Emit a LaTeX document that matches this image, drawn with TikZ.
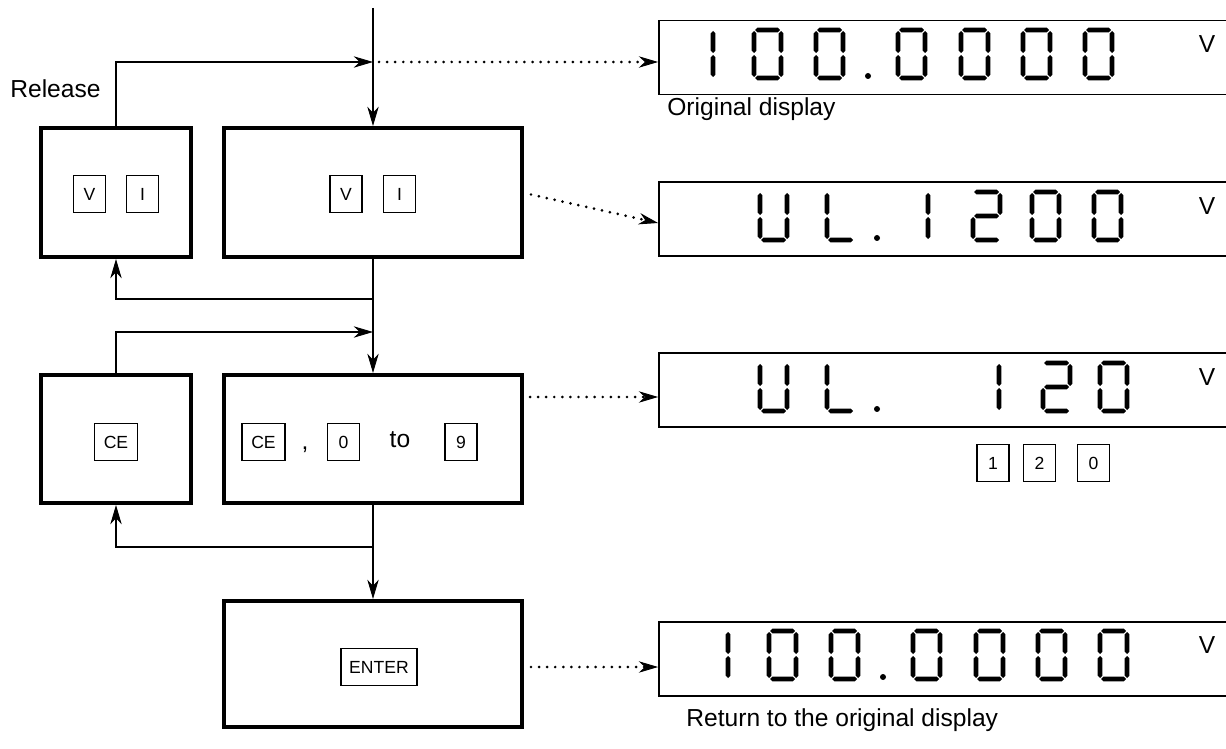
\documentclass[tikz,border=0pt]{standalone}
\usepackage{fontspec}
\setmainfont{Liberation Sans}
\usetikzlibrary{arrows.meta,calc}
\newcommand\hsegm[2]{\fill (#1,#2) -- ++(2.4,-2.4) -- ++(20.2,0) -- ++(2.4,2.4) -- ++(-2.4,2.4) -- ++(-20.2,0) -- cycle;}
\newcommand\vsegm[2]{\fill (#1,#2) -- ++(2.4,2.4) -- ++(0,17.2) -- ++(-2.4,2.4) -- ++(-2.4,-2.4) -- ++(0,-17.2) -- cycle;}
\def\segXa{\hsegm{1}{0}}
\def\segXg{\hsegm{1}{24}}
\def\segXd{\hsegm{1}{48}}
\def\segXf{\vsegm{0}{1}}
\def\segXe{\vsegm{0}{25}}
\def\segXb{\vsegm{27}{1}}
\def\segXc{\vsegm{27}{25}}
\def\segXh{\vsegm{21}{1}}
\def\segXi{\vsegm{21}{25}}
\newcommand\segdigit[3]{\begin{scope}[shift={(#1,#2)}]\foreach \s in {#3}{\csname segX\s\endcsname}\end{scope}}
\begin{document}
\begin{tikzpicture}[x=0.02cm,y=-0.02cm,
  bigbox/.style={draw, line width=2.3pt, inner sep=0pt},
  keybox/.style={draw, line width=0.85pt, inner sep=0pt, minimum width=0.64cm, minimum height=0.74cm, font=\fontsize{10}{12}\selectfont},
  disp/.style={draw, line width=1.1pt, inner sep=0pt, minimum width=12.02cm, minimum height=1.48cm},
  conn/.style={line width=0.9pt},
  arr/.style={conn, -{Stealth[length=11pt,width=6.5pt,inset=3.5pt,line width=0.5pt]}},
  dotarr/.style={line width=1.7pt, line cap=round, dash pattern=on 0pt off 4.6pt, -{Stealth[length=11pt,width=6.5pt,inset=3.5pt,line width=0.5pt]}},
  txt/.style={font=\fontsize{14}{16}\selectfont, inner sep=0pt},
  dot/.style={fill, circle, inner sep=0pt, minimum size=0.12cm}]
\clip (0,0) rectangle (1226,749);
\fill[white] (0,0) rectangle (1226,749);

% left-hand boxes
\node[bigbox, minimum width=3.0cm, minimum height=2.58cm] (box1) at (116,192.5) {};
\node[bigbox, minimum width=5.96cm, minimum height=2.58cm] (box2) at (373,192.5) {};
\node[bigbox, minimum width=3.0cm, minimum height=2.56cm] (box3) at (116,439) {};
\node[bigbox, minimum width=5.96cm, minimum height=2.56cm] (box4) at (373,439) {};
\node[bigbox, minimum width=5.96cm, minimum height=2.52cm] (box5) at (373,664) {};

% keys
\node[keybox] (k1v) at (89.5,194) {V};
\node[keybox] (k1i) at (142.5,194) {I};
\node[keybox] (k2v) at (346,194) {V};
\node[keybox] (k2i) at (399.5,194) {I};
\node[keybox, minimum width=0.86cm] (k3ce) at (116,442) {CE};
\node[keybox, minimum width=0.86cm] (k4ce) at (263.5,442) {CE};
\node[txt, anchor=base] (comma) at (305,449) {,};
\node[keybox] (k40) at (343.5,442) {0};
\node[txt] (to) at (400,440) {to};
\node[keybox] (k49) at (461,442) {9};
\node[keybox, minimum width=1.52cm] (k5) at (379,667) {ENTER};

% texts
\node[txt, anchor=base west] (rel) at (10,98) {Release};
\node[txt, anchor=base west] (orig) at (667,116) {Original display};
\node[txt, anchor=base west] (ret) at (686,726) {Return to the original display};

% connectors
\coordinate (top) at (373,8);
\coordinate (j1) at (373,62);
\coordinate (b1) at (373,299);
\coordinate (j2) at (373,332);
\coordinate (b2) at (373,547);
\draw[arr] (top) -- (box2.north);
\draw[arr] (box1.north) |- (j1);
\draw[conn] (box2.south) -- (b1);
\draw[arr] (b1) -- (box4.north);
\draw[arr] (b1) -| (box1.south);
\draw[arr] (box3.north) |- (j2);
\draw[conn] (box4.south) -- (b2);
\draw[arr] (b2) -- (box5.north);
\draw[arr] (b2) -| (box3.south);

% displays
\node[disp] (disp1) at (959.5,57.5) {};
\node[disp] (disp2) at (959.5,219) {};
\node[disp] (disp3) at (959.5,390) {};
\node[disp] (disp4) at (959.5,659) {};
\node[txt] (v1) at (1207,44) {V};
\node[txt] (v2) at (1207,206) {V};
\node[txt] (v3) at (1207,377) {V};
\node[txt] (v4) at (1207,645) {V};

% dotted arrows
\coordinate (d1s) at ($(j1)+(6,0)$);
\draw[dotarr] (d1s) -- (d1s -| disp1.west);
\draw[dotarr] ($(box2.east)+(7,2)$) -- ($(disp2.west)+(0,4)$);
\coordinate (d3s) at (530,397);
\draw[dotarr] (d3s) -- (d3s -| disp3.west);
\coordinate (d4s) at ($(box5.east)+(7,3)$);
\draw[dotarr] (d4s) -- (d4s -| disp4.west);

% display 1: 100.0000
\segdigit{692}{30}{h,i}
\segdigit{754}{30}{a,b,c,d,e,f}
\segdigit{816}{30}{a,b,c,d,e,f}
\node[dot] (p1) at (868,76) {};
\segdigit{898}{30}{a,b,c,d,e,f}
\segdigit{961}{30}{a,b,c,d,e,f}
\segdigit{1023}{30}{a,b,c,d,e,f}
\segdigit{1085}{30}{a,b,c,d,e,f}

% display 2: UL.1200
\segdigit{760}{192}{b,c,d,e,f}
\segdigit{827}{192}{d,e,f}
\node[dot] (p2) at (877,238) {};
\segdigit{907}{192}{h,i}
\segdigit{973}{192}{a,b,g,e,d}
\segdigit{1032}{192}{a,b,c,d,e,f}
\segdigit{1094}{192}{a,b,c,d,e,f}

% display 3: UL.  120
\segdigit{760}{363}{b,c,d,e,f}
\segdigit{827}{363}{d,e,f}
\node[dot] (p3) at (877,409) {};
\segdigit{978}{363}{h,i}
\segdigit{1043}{363}{a,b,g,e,d}
\segdigit{1100}{363}{a,b,c,d,e,f}
\node[keybox] (n1) at (993,463) {1};
\node[keybox] (n2) at (1039.5,463) {2};
\node[keybox] (n0) at (1093.5,463) {0};

% display 4: 100.0000
\segdigit{707}{631}{h,i}
\segdigit{769}{631}{a,b,c,d,e,f}
\segdigit{831}{631}{a,b,c,d,e,f}
\node[dot] (p4) at (883,677) {};
\segdigit{913}{631}{a,b,c,d,e,f}
\segdigit{976}{631}{a,b,c,d,e,f}
\segdigit{1038}{631}{a,b,c,d,e,f}
\segdigit{1100}{631}{a,b,c,d,e,f}
\end{tikzpicture}
\end{document}
